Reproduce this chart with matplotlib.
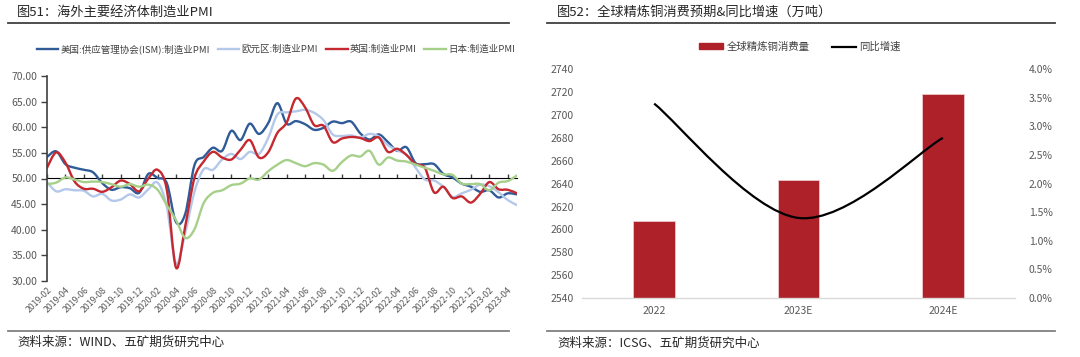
import matplotlib
matplotlib.use("Agg")
import matplotlib.pyplot as plt
from matplotlib.path import Path
from matplotlib.patches import PathPatch
from matplotlib.lines import Line2D
from matplotlib.ticker import FuncFormatter, MultipleLocator
import numpy as np

plt.rcParams['font.family'] = ['Noto Sans CJK SC', 'DejaVu Sans']

# ---------------- data: left chart (monthly 2019-02 .. 2023-05) ----------------
months = []
y0, m0 = 2019, 2
for k in range(52):
    yy = y0 + (m0 - 1 + k) // 12
    mm = (m0 - 1 + k) % 12 + 1
    months.append(f"{yy}-{mm:02d}")

us_ism = [54.2, 55.3, 52.8, 52.1, 51.7, 51.2, 49.1, 47.8, 48.3, 48.1, 47.2,
          50.9, 50.1, 49.1, 41.5, 43.1, 52.6, 54.2, 56.0, 55.4, 59.3, 57.5, 60.7,
          58.7, 60.8, 64.7, 60.7, 61.2, 60.6, 59.5, 59.9, 61.1, 60.8, 61.1, 58.8,
          57.6, 58.6, 57.1, 55.4, 56.1, 53.0, 52.8, 52.8, 50.9, 50.2, 49.0, 48.4,
          47.4, 47.7, 46.3, 47.1, 46.9]
euro = [49.3, 47.5, 47.9, 47.7, 47.6, 46.5, 47.0, 45.7, 45.9, 46.9, 46.3,
        47.9, 49.2, 44.5, 33.4, 39.4, 47.4, 51.8, 51.7, 53.7, 54.8, 53.8, 55.2,
        54.8, 57.9, 62.5, 62.9, 63.1, 63.4, 62.8, 61.4, 58.6, 58.3, 58.4, 58.0,
        58.7, 58.2, 56.5, 55.5, 54.6, 52.1, 49.8, 49.6, 48.4, 46.4, 47.1, 47.8,
        48.8, 48.5, 47.3, 45.8, 44.8]
uk = [52.1, 55.1, 53.1, 49.4, 48.0, 48.0, 47.4, 48.3, 49.6, 48.9, 47.5,
      50.0, 51.7, 47.8, 32.6, 40.7, 50.1, 53.3, 55.2, 54.1, 53.7, 55.6, 57.5,
      54.1, 55.1, 58.9, 60.9, 65.6, 63.9, 60.4, 60.3, 57.1, 57.8, 58.1, 57.9,
      57.3, 58.0, 55.2, 55.8, 54.6, 52.8, 52.1, 47.3, 48.4, 46.2, 46.5, 45.3,
      47.0, 49.3, 47.9, 47.8, 47.1]
japan = [48.9, 49.2, 50.2, 49.8, 49.3, 49.4, 49.3, 48.9, 48.4, 48.9, 48.4,
         48.8, 47.8, 44.8, 41.9, 38.4, 40.1, 45.2, 47.2, 47.7, 48.7, 49.0, 50.0,
         49.8, 51.4, 52.7, 53.6, 53.0, 52.4, 53.0, 52.7, 51.5, 53.2, 54.5, 54.3,
         55.4, 52.7, 54.1, 53.5, 53.3, 52.7, 52.1, 51.5, 50.8, 50.7, 49.0, 48.9,
         48.9, 47.7, 49.2, 49.5, 50.6]

series_names = ['美国:供应管理协会(ISM):制造业PMI', '欧元区:制造业PMI',
                '英国:制造业PMI', '日本:制造业PMI']
series_colors = ['#2F5C99', '#B4C8EA', '#C5282F', '#A6D08A']

# ---------------- data: right chart ----------------
years = ['2022', '2023E', '2024E']
consumption = [2607, 2643, 2718]
yoy = [0.034, 0.014, 0.028]


def smooth_path(x, y):
    x = list(x); y = list(y)
    n = len(x)
    verts = [(x[0], y[0])]
    codes = [Path.MOVETO]
    for i in range(n - 1):
        p0 = i - 1 if i > 0 else i
        p3 = i + 2 if i + 2 < n else i + 1
        c1 = (x[i] + (x[i + 1] - x[p0]) / 6.0, y[i] + (y[i + 1] - y[p0]) / 6.0)
        c2 = (x[i + 1] - (x[p3] - x[i]) / 6.0, y[i + 1] - (y[p3] - y[i]) / 6.0)
        verts += [c1, c2, (x[i + 1], y[i + 1])]
        codes += [Path.CURVE4] * 3
    return Path(verts, codes)


fig = plt.figure(figsize=(10.8, 3.57), dpi=100)
W, H = 1080, 357

def fx(px):
    return px / W

def fy(py):
    return 1 - py / H

tick_color = '#595959'

# ---------------- left chart ----------------
axL = fig.add_axes([fx(47), fy(281), fx(517) - fx(47), fy(76) - fy(281)])
xidx = np.arange(len(months))
for data, col in zip([us_ism, euro, uk, japan], series_colors):
    axL.add_patch(PathPatch(smooth_path(xidx, data), fill=False, edgecolor=col,
                            lw=1.7, capstyle='round', joinstyle='round'))
axL.set_xlim(0, len(months) - 1)
axL.set_ylim(30, 70)
axL.yaxis.set_major_locator(MultipleLocator(5))
axL.yaxis.set_major_formatter(FuncFormatter(lambda v, p: f"{v:.2f}"))
for s in ['top', 'right', 'bottom']:
    axL.spines[s].set_visible(False)
axL.spines['left'].set_color('#404040')
axL.spines['left'].set_linewidth(1.2)
axL.tick_params(axis='y', direction='out', length=4, width=1, color='#404040',
                labelsize=7.5, labelcolor=tick_color, pad=3)
tick_pos = xidx[::2]
axL.set_xticks(tick_pos)
axL.set_xticklabels([months[i] for i in tick_pos], rotation=45, ha='right',
                    rotation_mode='anchor', fontsize=6.3, color=tick_color)
axL.tick_params(axis='x', length=0, pad=3)
sec = axL.secondary_xaxis(0.5)
sec.set_xticks(tick_pos)
sec.set_xticklabels([])
sec.spines['bottom'].set_color('#404040')
sec.spines['bottom'].set_linewidth(1.4)
sec.tick_params(axis='x', direction='out', length=3, width=1, color='#404040')

handles = [Line2D([], [], color=c, lw=1.7) for c in series_colors]
fig.legend(handles, series_names, loc='center', bbox_to_anchor=(fx(276), fy(49)),
           ncol=4, frameon=False, fontsize=6.8, handlelength=2.3,
           handletextpad=0.25, columnspacing=0.8, labelcolor='#404040')

fig.text(fx(17), fy(12), '图51：海外主要经济体制造业PMI', fontsize=9.5,
         va='center', ha='left', color='#262626')
fig.text(fx(17), fy(342), '资料来源：WIND、五矿期货研究中心', fontsize=9,
         va='center', ha='left', color='#262626')
fig.add_artist(Line2D([fx(8), fx(509)], [fy(23), fy(23)], color='#404040', lw=1.3))
fig.add_artist(Line2D([fx(8), fx(509)], [fy(331), fy(331)], color='#808080', lw=1.3))

# ---------------- right chart ----------------
axR = fig.add_axes([fx(582), fy(298), fx(1015) - fx(582), fy(69.3) - fy(298)])
xr = np.arange(len(years))
axR.bar(xr, consumption, width=0.29, color='#AE2129', edgecolor='#E8C8CA',
        linewidth=0.6, zorder=2)
axR.set_xlim(-0.5, 2.5)
axR.set_ylim(2540, 2740)
axR.yaxis.set_major_locator(MultipleLocator(20))
axR.set_xticks(xr)
axR.set_xticklabels(years)
for s in ['top', 'right', 'left']:
    axR.spines[s].set_visible(False)
axR.spines['bottom'].set_color('#D9D9D9')
axR.spines['bottom'].set_linewidth(1.0)
axR.tick_params(axis='both', length=0, labelsize=7.5, labelcolor=tick_color)
axR.tick_params(axis='y', pad=6)
axR.tick_params(axis='x', pad=6)

axR2 = axR.twinx()
axR2.set_ylim(0, 0.04)
axR2.yaxis.set_major_locator(MultipleLocator(0.005))
axR2.yaxis.set_major_formatter(FuncFormatter(lambda v, p: f"{v*100:.1f}%"))
for s in ['top', 'right', 'left', 'bottom']:
    axR2.spines[s].set_visible(False)
axR2.tick_params(axis='y', length=0, labelsize=7.5, labelcolor=tick_color, pad=10)
axR2.add_patch(PathPatch(smooth_path(xr, yoy), fill=False, edgecolor='black',
                         lw=1.6, zorder=3))

h2 = [plt.Rectangle((0, 0), 1, 1, color='#AE2129'), Line2D([], [], color='black', lw=1.6)]
fig.legend(h2, ['全球精炼铜消费量', '同比增速'], loc='center',
           bbox_to_anchor=(fx(800), fy(47)), ncol=2, frameon=False, fontsize=7.5,
           handlelength=2.3, handleheight=0.5, handletextpad=0.3,
           columnspacing=2.2, labelcolor='#404040')

fig.text(fx(557), fy(12), '图52：全球精炼铜消费预期&同比增速（万吨）', fontsize=9.5,
         va='center', ha='left', color='#262626')
fig.text(fx(557), fy(343), '资料来源：ICSG、五矿期货研究中心', fontsize=9,
         va='center', ha='left', color='#262626')
fig.add_artist(Line2D([fx(547), fx(1055)], [fy(23), fy(23)], color='#404040', lw=1.3))
fig.add_artist(Line2D([fx(547), fx(1055)], [fy(331), fy(331)], color='#808080', lw=1.3))

fig.savefig('out.png', dpi=100)
